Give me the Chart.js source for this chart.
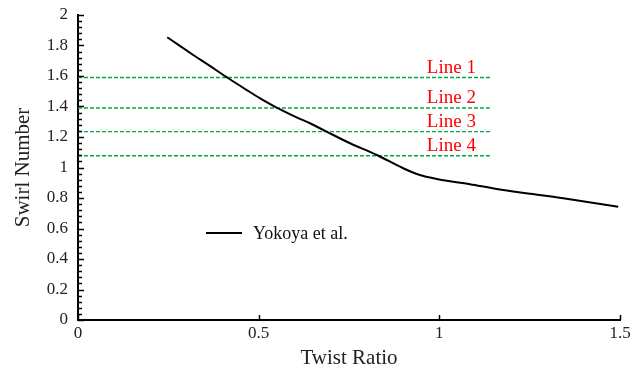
<!DOCTYPE html>
<html>
<head>
<meta charset="utf-8">
<script src="https://cdn.jsdelivr.net/npm/chart.js@4.4.1/dist/chart.umd.min.js"></script>
<style>
  html, body { margin: 0; padding: 0; background: #fff; }
  #wrap { width: 636px; height: 373px; }
</style>
</head>
<body>
<div id="wrap"><canvas id="swirl"></canvas></div>
<script>
const SERIF = "'Liberation Serif', 'Times New Roman', serif";

// Yokoya et al. curve
const twistRatio = [0.247, 0.319, 0.365, 0.416, 0.467, 0.504, 0.554, 0.605, 0.642, 0.688,
                    0.753, 0.827, 0.900, 0.946, 0.993, 1.039, 1.085, 1.159, 1.251, 1.343, 1.495];
const swirlNumber = [1.854, 1.738, 1.666, 1.585, 1.508, 1.454, 1.388, 1.329, 1.290, 1.235,
                     1.159, 1.082, 0.995, 0.951, 0.925, 0.907, 0.890, 0.859, 0.828, 0.798, 0.743];

// horizontal reference lines
const refNames = ['Line 1', 'Line 2', 'Line 3', 'Line 4'];
const refLevels = [1.59, 1.39, 1.235, 1.077];
const refStart = 0;
const refEnd = 1.14;

const xTicks = [0, 0.5, 1, 1.5];
const yTicks = [0, 0.2, 0.4, 0.6, 0.8, 1, 1.2, 1.4, 1.6, 1.8, 2];
const yMinorStep = 0.04;

const fmt = (v) => String(+Number(v).toFixed(2));

const refDatasets = refLevels.map((lvl, i) => ({
  label: refNames[i],
  data: [{ x: refStart, y: lvl }, { x: refEnd, y: lvl }],
  borderColor: '#00a844',
  borderWidth: 1.4,
  borderDash: [4, 2],
  pointRadius: 0,
  fill: false,
}));

// inward ticks, ref line captions and the in-plot legend
const decorations = {
  id: 'decorations',
  afterDraw(chart) {
    const { ctx, chartArea, scales: { x, y } } = chart;
    ctx.save();
    ctx.strokeStyle = '#000';
    ctx.lineWidth = 1.5;

    // y axis: major + minor ticks pointing into the plot
    const nMinor = Math.round((y.max - y.min) / yMinorStep);
    for (let k = 0; k <= nMinor; k++) {
      const v = y.min + k * yMinorStep;
      const major = yTicks.some(t => Math.abs(t - v) < 1e-6);
      const py = Math.round(y.getPixelForValue(v)) + 0.5;
      ctx.beginPath();
      ctx.moveTo(chartArea.left, py);
      ctx.lineTo(chartArea.left + (major ? 6 : 4), py);
      ctx.stroke();
    }
    // x axis ticks
    xTicks.forEach(v => {
      const px = Math.round(x.getPixelForValue(v)) + 0.5;
      ctx.beginPath();
      ctx.moveTo(px, chartArea.bottom);
      ctx.lineTo(px, chartArea.bottom - 5);
      ctx.stroke();
    });

    // captions above the dashed lines
    ctx.fillStyle = '#ff0000';
    ctx.font = '19px ' + SERIF;
    ctx.textAlign = 'right';
    ctx.textBaseline = 'alphabetic';
    refLevels.forEach((lvl, i) => {
      ctx.fillText(refNames[i], x.getPixelForValue(refEnd) - 14, y.getPixelForValue(lvl) - 5);
    });

    // legend
    const lx = chartArea.left + 128;
    const ly = chartArea.top + 218;
    ctx.strokeStyle = '#000';
    ctx.lineWidth = 2;
    ctx.beginPath();
    ctx.moveTo(lx, ly);
    ctx.lineTo(lx + 36, ly);
    ctx.stroke();
    ctx.fillStyle = '#111';
    ctx.font = '18px ' + SERIF;
    ctx.textAlign = 'left';
    ctx.textBaseline = 'middle';
    ctx.fillText('Yokoya et al.', lx + 47, ly + 1);
    ctx.restore();
  }
};

new Chart(document.getElementById('swirl'), {
  type: 'line',
  data: {
    datasets: [
      {
        label: 'Yokoya et al.',
        data: twistRatio.map((t, i) => ({ x: t, y: swirlNumber[i] })),
        borderColor: '#000',
        borderWidth: 2,
        pointRadius: 0,
        tension: 0.35,
        fill: false,
      },
      ...refDatasets,
    ],
  },
  options: {
    responsive: true,
    maintainAspectRatio: false,
    animation: false,
    layout: { padding: { top: 15, right: 16, left: 0, bottom: 0 } },
    plugins: { legend: { display: false }, tooltip: { enabled: false } },
    scales: {
      x: {
        type: 'linear',
        min: 0,
        max: 1.5,
        afterFit: (s) => { s.height = 53; s.paddingLeft = 0; s.paddingRight = 0; },
        afterBuildTicks: (s) => { s.ticks = xTicks.map(v => ({ value: v })); },
        grid: { display: false, drawTicks: false },
        border: { color: '#000', width: 2 },
        ticks: { color: '#222', font: { family: SERIF, size: 17 }, padding: 3, callback: fmt, maxRotation: 0 },
        title: { display: true, text: 'Twist Ratio', color: '#222', font: { family: SERIF, size: 21 }, padding: { top: 0, bottom: 2 } },
      },
      y: {
        type: 'linear',
        min: 0,
        max: 2,
        // label overflow would otherwise push the plot area down
        afterFit: (s) => { s.width = 78; s.paddingTop = 0; s.paddingBottom = 0; },
        afterBuildTicks: (s) => { s.ticks = yTicks.map(v => ({ value: v })); },
        grid: { display: false, drawTicks: false },
        border: { color: '#000', width: 2 },
        ticks: { color: '#222', font: { family: SERIF, size: 17 }, padding: 10, callback: fmt },
        title: { display: true, text: 'Swirl Number', color: '#222', font: { family: SERIF, size: 21 }, padding: { top: 11, bottom: 0 } },
      },
    },
  },
  plugins: [decorations],
});
</script>
</body>
</html>
